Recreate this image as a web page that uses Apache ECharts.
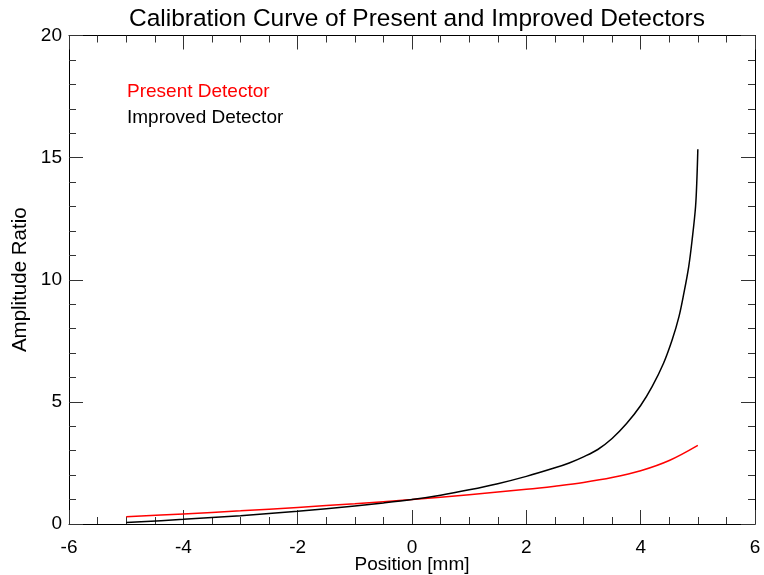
<!DOCTYPE html>
<html>
<head>
<meta charset="utf-8">
<script src="https://cdn.jsdelivr.net/npm/echarts@6/dist/echarts.min.js"></script>
<style>html,body{margin:0;padding:0;background:#fff}#c{width:764px;height:575px}</style>
</head>
<body>
<div id="c"></div>
<script>
var xTicks = [-6, -4, -2, 0, 2, 4, 6];
var yTicks = [0, 5, 10, 15, 20];
var presentDetector = [[-5,0.30],[-4,0.41],[-3,0.54],[-2,0.68],[-1,0.83],[0,1.0],[1,1.2],[2,1.42],[2.5,1.55],[3,1.7],[3.5,1.9],[4,2.18],[4.5,2.6],[5,3.22]];
var improvedDetector = [[-5,0.06],[-4,0.19],[-3,0.34],[-2,0.52],[-1,0.74],[-0.5,0.86],[0,1.0],[0.5,1.18],[1,1.4],[1.5,1.65],[2,1.95],[2.5,2.3],[2.75,2.5],[3,2.75],[3.25,3.05],[3.5,3.5],[3.75,4.1],[4,4.85],[4.2,5.62],[4.4,6.58],[4.55,7.53],[4.67,8.49],[4.755,9.44],[4.84,10.53],[4.9,11.63],[4.96,12.99],[4.985,14.2],[5.0,15.34]];

var FONT = 'Liberation Sans, Arial, sans-serif';
var chart = echarts.init(document.getElementById('c'), null, {renderer:'canvas'});
function xAx(pos, show){
  return {
    type:'value', position:pos, min:xTicks[0], max:xTicks[xTicks.length-1], interval:2,
    axisLine:{show:true, onZero:false, lineStyle:{color:'#000', width:1}},
    axisTick:{show:true, inside:true, length:14, lineStyle:{color:'#333'}},
    minorTick:{show:true, splitNumber:4, length:7, lineStyle:{color:'#333'}},
    splitLine:{show:false},
    axisLabel:{show:show, fontSize:19, color:'#000', fontFamily:FONT, margin:14},
    name: show ? 'Position [mm]' : '', nameLocation:'middle', nameGap:31, nameMoveOverlap:false,
    nameTextStyle:{fontSize:19, color:'#000', fontFamily:FONT}
  };
}
function yAx(pos, show){
  return {
    type:'value', position:pos, min:yTicks[0], max:yTicks[yTicks.length-1], interval:5,
    axisLine:{show:true, onZero:false, lineStyle:{color:'#000', width:1}},
    axisTick:{show:true, inside:true, length:14, lineStyle:{color:'#333'}},
    minorTick:{show:true, splitNumber:5, length:7, lineStyle:{color:'#333'}},
    splitLine:{show:false},
    axisLabel:{show:show, fontSize:19, color:'#000', fontFamily:FONT, margin:7},
    name: show ? 'Amplitude Ratio' : '', nameLocation:'middle', nameGap:38, nameMoveOverlap:false,
    nameTextStyle:{fontSize:20.5, color:'#000', fontFamily:FONT}
  };
}
chart.setOption({
  animation:false,
  backgroundColor:'#fff',
  title:{text:'Calibration Curve of Present and Improved Detectors', left:412, textAlign:'center', top:2,
    textStyle:{fontSize:24.5, fontWeight:'normal', color:'#000', fontFamily:FONT}},
  grid:{left:69, right:9, top:35.5, bottom:51, outerBoundsMode:'none', containLabel:false},
  legend:{orient:'vertical', left:117, top:77, icon:'none', itemWidth:0, itemHeight:0, itemGap:7,
    textStyle:{fontSize:19, fontFamily:FONT},
    data:[{name:'Present Detector', textStyle:{color:'#ff0000'}},{name:'Improved Detector', textStyle:{color:'#000'}}]},
  xAxis:[xAx('bottom', true), xAx('top', false)],
  yAxis:[yAx('left', true), yAx('right', false)],
  series:[
    {name:'Present Detector', type:'line', data:presentDetector, smooth:0.35, showSymbol:false, lineStyle:{color:'#ff0000', width:1.5}, itemStyle:{color:'#ff0000'}},
    {name:'Improved Detector', type:'line', data:improvedDetector, smooth:0.35, showSymbol:false, lineStyle:{color:'#000', width:1.5}, itemStyle:{color:'#000'}}
  ]
});
</script>
</body>
</html>
